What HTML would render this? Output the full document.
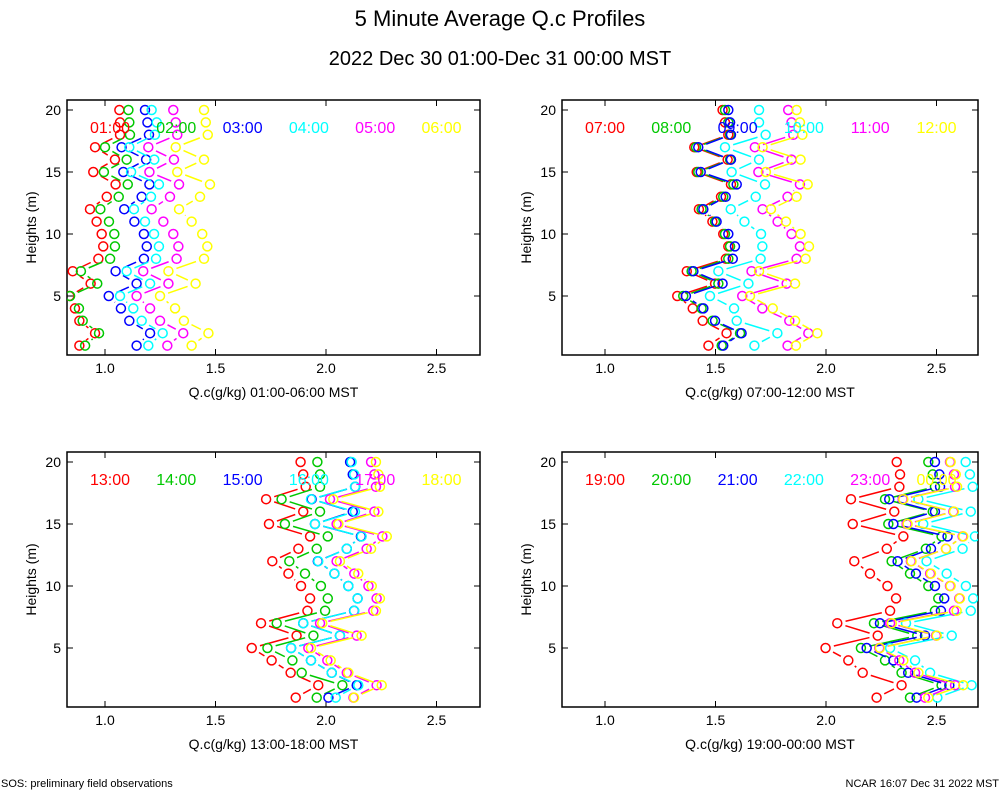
<!DOCTYPE html>
<html><head><meta charset="utf-8"><style>
body{margin:0;background:#fff;font-family:"Liberation Sans",sans-serif}
svg text{font-family:"Liberation Sans",sans-serif}
</style></head><body>
<svg id="chart" width="1000" height="800" xmlns="http://www.w3.org/2000/svg">
<rect width="1000" height="800" fill="#fff"/>
<text x="500" y="26" font-size="22" text-anchor="middle">5 Minute Average Q.c Profiles</text>
<text x="500" y="65" font-size="20" text-anchor="middle">2022 Dec 30 01:00-Dec 31 00:00 MST</text>
<text x="1" y="787" font-size="11">SOS: preliminary field observations</text>
<text x="999" y="787" font-size="11" text-anchor="end">NCAR 16:07 Dec 31 2022 MST</text>
</svg>
<script>
const heights=[20,19,18,17,16,15,14,13,12,11,10,9,8,7,6,5,4,3,2,1];
const xTicks=[1.0,1.5,2.0,2.5];
const xTickLabels=["1.0","1.5","2.0","2.5"];
const yTicks=[5,10,15,20];
const colors=["#ff0000","#00c800","#0000ff","#00ffff","#ff00ff","#ffff00"];
const panelTitles=["Q.c(g/kg) 01:00-06:00 MST","Q.c(g/kg) 07:00-12:00 MST","Q.c(g/kg) 13:00-18:00 MST","Q.c(g/kg) 19:00-00:00 MST"];
const labels1=["01:00","02:00","03:00","04:00","05:00","06:00"];
const labels2=["07:00","08:00","09:00","10:00","11:00","12:00"];
const labels3=["13:00","14:00","15:00","16:00","17:00","18:00"];
const labels4=["19:00","20:00","21:00","22:00","23:00","00:00"];
const s01=[1.065,1.068,1.068,0.955,1.045,0.947,1.048,1.008,0.932,0.962,0.985,0.992,0.970,0.854,0.935,0.839,0.864,0.884,0.955,0.884];
const s02=[1.106,1.110,1.113,1.0,1.098,0.995,1.103,1.062,0.979,1.018,1.042,1.045,1.023,0.891,0.965,0.842,0.882,0.899,0.973,0.910];
const s03=[1.181,1.192,1.199,1.075,1.186,1.083,1.201,1.166,1.087,1.133,1.176,1.189,1.176,1.048,1.143,1.017,1.072,1.110,1.204,1.143];
const s04=[1.211,1.234,1.226,1.110,1.223,1.118,1.244,1.208,1.131,1.181,1.222,1.244,1.231,1.098,1.204,1.068,1.128,1.166,1.261,1.196];
const s05=[1.309,1.320,1.327,1.196,1.312,1.201,1.335,1.294,1.211,1.264,1.309,1.332,1.324,1.173,1.287,1.143,1.204,1.249,1.354,1.282];
const s06=[1.448,1.456,1.465,1.320,1.448,1.327,1.475,1.430,1.335,1.392,1.440,1.463,1.448,1.287,1.410,1.249,1.317,1.357,1.468,1.392];
const s07=[1.532,1.543,1.558,1.404,1.555,1.415,1.570,1.525,1.425,1.486,1.535,1.558,1.547,1.370,1.498,1.327,1.397,1.442,1.550,1.468];
const s08=[1.543,1.558,1.566,1.412,1.566,1.422,1.581,1.535,1.437,1.498,1.543,1.566,1.558,1.392,1.513,1.354,1.437,1.487,1.611,1.528];
const s09=[1.558,1.566,1.570,1.422,1.570,1.433,1.596,1.546,1.445,1.505,1.558,1.588,1.578,1.400,1.532,1.366,1.445,1.498,1.618,1.535];
const s10=[1.697,1.697,1.727,1.543,1.697,1.573,1.724,1.682,1.569,1.631,1.706,1.712,1.704,1.513,1.649,1.475,1.584,1.596,1.780,1.676];
const s11=[1.829,1.844,1.852,1.678,1.844,1.694,1.882,1.826,1.713,1.781,1.844,1.882,1.867,1.663,1.822,1.621,1.712,1.834,1.920,1.826];
const s12=[1.867,1.882,1.893,1.713,1.885,1.728,1.917,1.867,1.751,1.819,1.885,1.923,1.908,1.697,1.860,1.656,1.759,1.860,1.961,1.864];
const s13=[1.885,1.897,1.908,1.729,1.897,1.742,1.928,1.875,1.757,1.830,1.887,1.928,1.916,1.706,1.867,1.664,1.754,1.840,1.965,1.863];
const s14=[1.961,1.973,1.973,1.799,1.973,1.814,2.008,1.958,1.834,1.905,1.977,2.008,1.996,1.777,1.943,1.735,1.848,1.890,2.074,1.958];
const s15=[2.109,2.121,2.132,1.935,2.121,1.950,2.158,2.094,1.963,2.038,2.101,2.143,2.127,1.897,2.063,1.842,1.932,2.026,2.139,2.011];
const s16=[2.116,2.128,2.131,1.932,2.131,1.950,2.161,2.094,1.965,2.038,2.101,2.143,2.128,1.897,2.063,1.842,1.932,2.026,2.146,2.044];
const s17=[2.204,2.219,2.226,2.018,2.219,2.048,2.255,2.184,2.048,2.128,2.192,2.229,2.214,1.973,2.139,1.920,2.006,2.094,2.229,2.124];
const s18=[2.226,2.237,2.244,2.033,2.237,2.056,2.275,2.204,2.063,2.146,2.207,2.244,2.226,1.983,2.161,1.932,2.021,2.101,2.252,2.127];
const s19=[2.320,2.335,2.332,2.113,2.309,2.121,2.350,2.275,2.128,2.199,2.278,2.317,2.290,2.051,2.234,1.998,2.101,2.166,2.342,2.229];
const s20=[2.463,2.483,2.493,2.267,2.483,2.282,2.523,2.452,2.297,2.380,2.463,2.508,2.493,2.217,2.413,2.158,2.267,2.342,2.523,2.380];
const s21=[2.493,2.513,2.516,2.286,2.493,2.305,2.550,2.475,2.324,2.407,2.493,2.535,2.520,2.244,2.448,2.184,2.305,2.372,2.558,2.410];
const s22=[2.632,2.651,2.664,2.418,2.655,2.440,2.674,2.618,2.455,2.546,2.633,2.666,2.655,2.362,2.569,2.290,2.403,2.471,2.659,2.504];
const s23=[2.561,2.579,2.584,2.347,2.576,2.365,2.618,2.543,2.384,2.471,2.561,2.603,2.579,2.290,2.498,2.241,2.332,2.403,2.584,2.448];
const s24=[2.564,2.587,2.593,2.350,2.579,2.369,2.621,2.543,2.387,2.475,2.564,2.606,2.591,2.298,2.501,2.244,2.350,2.418,2.621,2.463];

const NS="http://www.w3.org/2000/svg";
const svg=document.getElementById('chart');
function mk(tag,attrs,parent){const e=document.createElementNS(NS,tag);for(const k in attrs)e.setAttribute(k,attrs[k]);(parent||svg).appendChild(e);return e;}

const panels=[
 {x0:67,x1:480,y0:100,y1:355,v1:105,labels:labels1,series:[s01,s02,s03,s04,s05,s06]},
 {x0:562,x1:978,y0:100,y1:355,v1:605,labels:labels2,series:[s07,s08,s09,s10,s11,s12]},
 {x0:67,x1:480,y0:452,y1:707,v1:105,labels:labels3,series:[s13,s14,s15,s16,s17,s18]},
 {x0:562,x1:978,y0:452,y1:707,v1:605,labels:labels4,series:[s19,s20,s21,s22,s23,s24]}
];
panels.forEach((p,pi)=>{
  const g=mk('g',{});
  
  
  const xs=v=>p.v1+(v-1)*221;
  const ys=h=>p.y0+10+(20-h)*12.4;
  const frame=mk('rect',{x:p.x0,y:p.y0,width:p.x1-p.x0,height:p.y1-p.y0,fill:'none',stroke:'#000','stroke-width':1.5},g);
  
  
  xTicks.forEach((t,i)=>{
    const x=xs(t);
    mk('line',{x1:x,x2:x,y1:p.y1,y2:p.y1-6,stroke:'#000'},g);
    mk('line',{x1:x,x2:x,y1:p.y0,y2:p.y0+6,stroke:'#000'},g);
    const tl=mk('text',{x:x,y:p.y1+18,'font-size':14,'text-anchor':'middle'},g);
    tl.textContent=xTickLabels[i];
    
    
  });
  yTicks.forEach(t=>{
    const y=ys(t);
    mk('line',{x1:p.x0,x2:p.x0+6,y1:y,y2:y,stroke:'#000'},g);
    mk('line',{x1:p.x1,x2:p.x1-6,y1:y,y2:y,stroke:'#000'},g);
    const tl=mk('text',{x:p.x0-6,y:y+5,'font-size':14,'text-anchor':'end'},g);
    tl.textContent=t;
    
    
  });
  const yl=mk('text',{x:0,y:0,'font-size':14,'text-anchor':'middle',transform:`translate(${p.x0-31},${(p.y0+p.y1)/2}) rotate(-90)`},g);
  yl.textContent='Heights (m)';
  
  
  const xl=mk('text',{x:(p.x0+p.x1)/2,y:p.y1+42,'font-size':14,'text-anchor':'middle'},g);
  xl.textContent=panelTitles[pi];
  
  
  const clip=mk('clipPath',{id:'clip'+pi},g);
  mk('rect',{x:p.x0,y:p.y0,width:p.x1-p.x0,height:p.y1-p.y0},clip);
  const dg=mk('g',{'clip-path':`url(#clip${pi})`},g);
  p.series.forEach((s,si)=>{
    const c=colors[si];
    const sg=mk('g',{},dg);
    
    
    for(let i=0;i<s.length-1;i++){
      const ax=xs(s[i]),ay=ys(heights[i]),bx=xs(s[i+1]),by=ys(heights[i+1]);
      const dx=bx-ax,dy=by-ay,L=Math.hypot(dx,dy),r=8.5;
      if(L>2*r){const ux=dx/L,uy=dy/L;
        mk('line',{x1:ax+ux*r,y1:ay+uy*r,x2:bx-ux*r,y2:by-uy*r,stroke:c,'stroke-width':1.5},sg);}
    }
    s.forEach((v,i)=>{
      const pt=mk('circle',{cx:xs(v),cy:ys(heights[i]),r:4.5,fill:'none',stroke:c,'stroke-width':1.5},sg);
      
      
    });
  });
  p.labels.forEach((l,li)=>{
    const t=mk('text',{x:p.x0+43+li*66.3,y:p.y0+33,'font-size':16,'text-anchor':'middle',fill:colors[li]},g);
    t.textContent=l;
    
    
  });
});
</script>
</body></html>
